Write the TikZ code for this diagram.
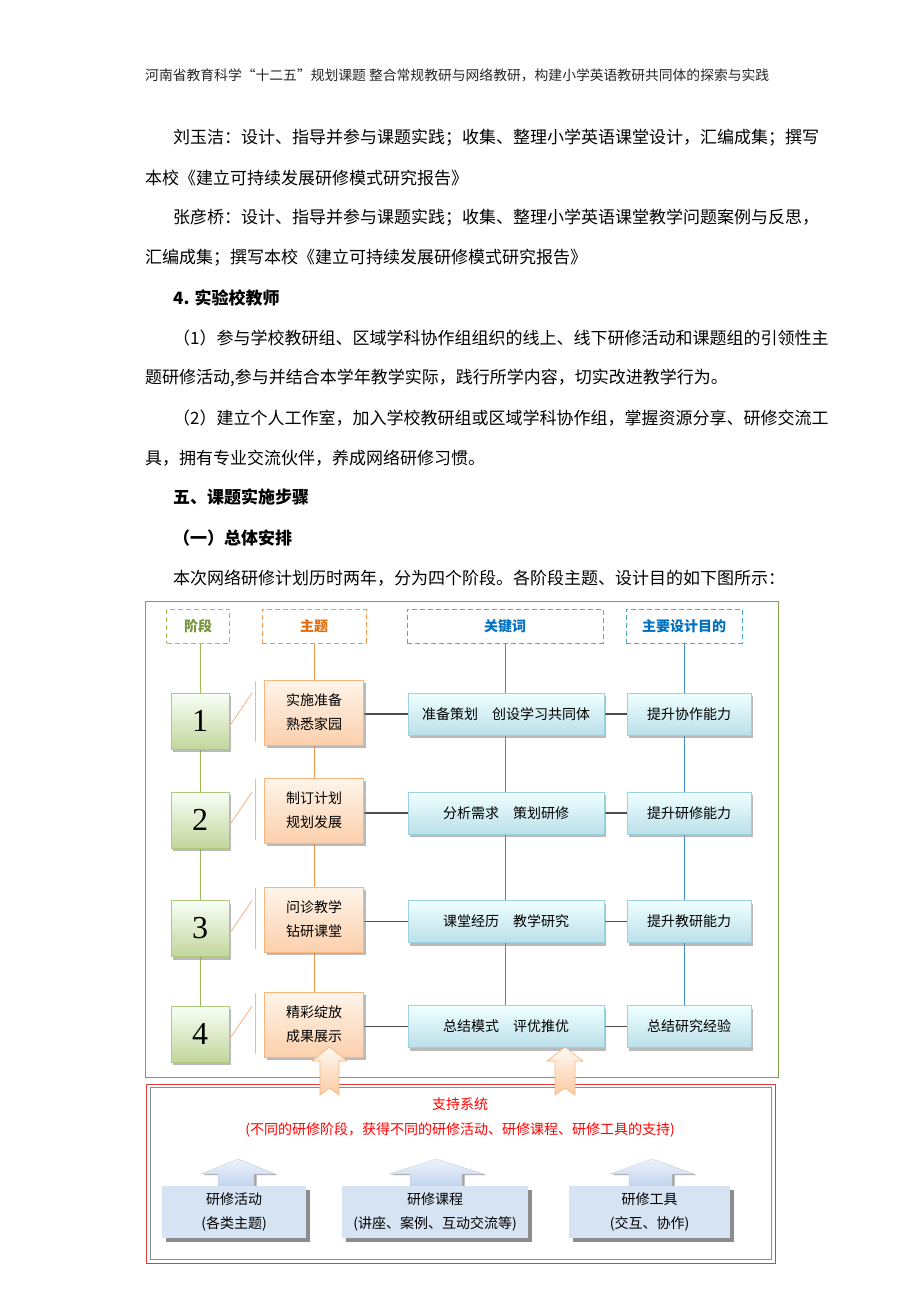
\documentclass[tikz,border=0pt]{standalone}
\usepackage{fontspec}
\setmainfont{Noto Sans CJK SC}
\newfontfamily\numfont{Liberation Serif}
\usetikzlibrary{shadows,backgrounds,calc}
\definecolor{frameG}{HTML}{7FA246}
\definecolor{dashG}{HTML}{9BBB59}
\definecolor{txtG}{HTML}{77933C}
\definecolor{dashO}{HTML}{F79646}
\definecolor{txtO}{HTML}{E46C0A}
\definecolor{dashB}{HTML}{4BACC6}
\definecolor{txtB}{HTML}{0070C0}
\definecolor{lineB}{HTML}{3D8BD3}
\definecolor{connC}{HTML}{4D4D4D}
\definecolor{brkO}{HTML}{F8B88A}
\definecolor{redF}{HTML}{E03C3C}
\definecolor{sFill}{HTML}{D6E3F3}
\definecolor{arrTop}{HTML}{EEF3FA}
\definecolor{arrBot}{HTML}{BFD3EC}
\begin{document}
\begin{tikzpicture}[x=1pt,y=-1pt,
  para/.style={anchor=west,inner sep=0pt,font=\fontsize{17}{20}\selectfont},
  parab/.style={para,font=\fontsize{17}{20}\selectfont\bfseries},
  hdrtxt/.style={anchor=west,inner sep=0pt,font=\fontsize{13.8}{16}\selectfont,text=black!85},
  headbox/.style={draw,dash pattern=on 5pt off 3pt,line width=1pt,minimum height=34pt,inner sep=0pt,font=\fontsize{14}{16}\selectfont\bfseries},
  numbox/.style={draw=dashG!80,top color=green!3!white,bottom color=dashG!60,minimum width=58pt,minimum height=56pt,inner sep=0pt,
     font=\numfont\fontsize{32}{32}\selectfont,drop shadow={shadow xshift=2pt,shadow yshift=-3pt,fill=black!45,opacity=0.6}},
  obox/.style={draw=dashO!70,top color=orange!8!white,bottom color=dashO!45,minimum width=99pt,minimum height=65pt,inner sep=0pt,align=center,
     font=\fontsize{14}{24}\selectfont,drop shadow={shadow xshift=2pt,shadow yshift=-3pt,fill=black!45,opacity=0.6}},
  kbox/.style={draw=dashB!55,top color=cyan!6!white,bottom color=dashB!38,minimum height=42pt,inner sep=0pt,
     font=\fontsize{14}{16}\selectfont,drop shadow={shadow xshift=2pt,shadow yshift=-3pt,fill=black!45,opacity=0.6}},
  sbox/.style={fill=sFill,minimum height=52pt,inner sep=0pt,align=center,font=\fontsize{14}{24}\selectfont,
     drop shadow={shadow xshift=4pt,shadow yshift=-4pt,fill=black!50,opacity=0.9}},
  vline/.style={line width=1pt},
  hconn/.style={connC,line width=1.3pt},
  brk/.style={brkO,line width=0.9pt},
  uparrO/.style={top color=orange!5!white,bottom color=dashO!50,draw=dashO!70,line width=0.6pt},
  uparrB/.style={top color=arrTop,bottom color=arrBot,draw=arrBot!80!black!60,line width=0.3pt,
     drop shadow={shadow xshift=2.5pt,shadow yshift=-1pt,fill=black!50,opacity=0.7}}
]
\useasboundingbox (0,0) rectangle (920,1302);

% ---------- running text ----------
\node[hdrtxt] (h0) at (145,75) {河南省教育科学“十二五”规划课题 整合常规教研与网络教研，构建小学英语教研共同体的探索与实践};
\node[para] (t1) at (173,138) {刘玉洁：设计、指导并参与课题实践；收集、整理小学英语课堂设计，汇编成集；撰写};
\node[para] (t2) at (145,178) {本校《建立可持续发展研修模式研究报告》};
\node[para] (t3) at (173,218) {张彦桥：设计、指导并参与课题实践；收集、整理小学英语课堂教学问题案例与反思，};
\node[para] (t4) at (145,258) {汇编成集；撰写本校《建立可持续发展研修模式研究报告》};
\node[parab] (t5) at (173,298) {4. 实验校教师};
\node[para] (t6) at (173,338) {（1）参与学校教研组、区域学科协作组组织的线上、线下研修活动和课题组的引领性主};
\node[para] (t7) at (145,378) {题研修活动,参与并结合本学年教学实际，践行所学内容，切实改进教学行为。};
\node[para] (t8) at (173,418) {（2）建立个人工作室，加入学校教研组或区域学科协作组，掌握资源分享、研修交流工};
\node[para] (t9) at (145,458) {具，拥有专业交流伙伴，养成网络研修习惯。};
\node[parab] (t10) at (173,497) {五、课题实施步骤};
\node[parab] (t11) at (173,538) {（一）总体安排};
\node[para] (t12) at (173,578) {本次网络研修计划历时两年，分为四个阶段。各阶段主题、设计目的如下图所示：};

% ---------- diagram frame ----------
\draw[frameG,line width=1pt] (145,601) rectangle (778,1077);

% header boxes
\node[headbox,draw=dashG,text=txtG,minimum width=63pt] (hA) at (198,626) {阶段};
\node[headbox,draw=dashO,text=txtO,minimum width=104pt] (hB) at (314,626) {主题};
\node[headbox,draw=dashB,text=txtB,minimum width=196pt] (hC) at (505,626) {关键词};
\node[headbox,draw=dashB,text=txtB,minimum width=116pt] (hD) at (684,626) {主要设计目的};

% stage boxes
\node[numbox] (n1) at (200,721) {1};
\node[numbox] (n2) at (200,820) {2};
\node[numbox] (n3) at (200,928.5) {3};
\node[numbox] (n4) at (200,1034) {4};

\node[obox] (o1) at (314,712.5) {实施准备\\熟悉家园};
\node[obox] (o2) at (314,810.5) {制订计划\\规划发展};
\node[obox] (o3) at (314,919.5) {问诊教学\\钻研课堂};
\node[obox] (o4) at (314,1024.5) {精彩绽放\\成果展示};

\node[kbox,minimum width=196pt] (k1) at (506,714) {准备策划　创设学习共同体};
\node[kbox,minimum width=196pt] (k2) at (506,813) {分析需求　策划研修};
\node[kbox,minimum width=196pt] (k3) at (506,921.5) {课堂经历　教学研究};
\node[kbox,minimum width=196pt] (k4) at (506,1026.5) {总结模式　评优推优};

\node[kbox,minimum width=124pt] (p1) at (689,714) {提升协作能力};
\node[kbox,minimum width=124pt] (p2) at (689,813) {提升研修能力};
\node[kbox,minimum width=124pt] (p3) at (689,921.5) {提升教研能力};
\node[kbox,minimum width=124pt] (p4) at (689,1026.5) {总结研究经验};

\begin{scope}[on background layer]
  \fill[white] (0,0) rectangle (920,1302);
  \draw[vline,dashG] (hA.south -| n1.center) -- (n4.north);
  \draw[vline,dashO] (hB.south) -- (o4.north);
  \draw[vline,lineB] (hC.south) -- (hC.south |- k4.north);
  \draw[vline,lineB] (hD.south) -- (hD.south |- p4.north);
  \foreach \i in {1,2,3,4}{
    \draw[hconn] (o\i.east |- k\i.west) -- (k\i.west);
    \draw[hconn] (k\i.east) -- (p\i.west);
  }
\end{scope}

% brackets between number boxes and topic boxes
\foreach \i in {1,2,3,4}{
  \coordinate (bt\i) at ($(o\i.north west)+(-8.5,1)$);
  \coordinate (bb\i) at ($(o\i.south west)+(-8.5,-3)$);
  \coordinate (ba\i) at ($(n\i.north east)!0.6!(n\i.south east)$);
  \coordinate (bc\i) at ($(n\i.north east)+(23,0)$);
  \draw[brk] (bt\i) -- (bb\i);
  \draw[brk] (ba\i) -- (bc\i);
}

% ---------- support system ----------
\draw[redF,line width=1pt] (146,1084) rectangle (775,1263);
\draw[black!45,line width=0.7pt] (150,1087.5) rectangle (771,1259.5);
\node[text=red,font=\fontsize{14}{16}\selectfont] (s1) at (460,1104) {支持系统};
\node[text=red,font=\fontsize{14}{16}\selectfont] (s2) at (460,1130) {(不同的研修阶段，获得不同的研修活动、研修课程、研修工具的支持)};

% blue up arrows on support boxes
\path[uparrB] (238,1159) -- (275,1174) -- (254,1174) -- (254,1187) -- (218,1187) -- (218,1174) -- (201,1174) -- cycle;
\path[uparrB] (436,1159) -- (484,1174) -- (462,1174) -- (462,1187) -- (410,1187) -- (410,1174) -- (389,1174) -- cycle;
\path[uparrB] (652,1159) -- (694,1174) -- (672,1174) -- (672,1187) -- (629,1187) -- (629,1174) -- (610,1174) -- cycle;

\node[sbox,minimum width=144pt] (b1) at (234,1212) {研修活动\\(各类主题)};
\node[sbox,minimum width=186pt] (b2) at (435,1212) {研修课程\\(讲座、案例、互动交流等)};
\node[sbox,minimum width=161pt] (b3) at (649.5,1212) {研修工具\\(交互、协作)};

% orange up arrows into the stage frame
\path[uparrO] (329.5,1047) -- (347,1061) -- (339,1061) -- (339,1095) -- (329.5,1088) -- (320,1095) -- (320,1061) -- (312,1061) -- cycle;
\path[uparrO] (565,1047) -- (583,1061) -- (575,1061) -- (575,1095) -- (565,1088) -- (555,1095) -- (555,1061) -- (547,1061) -- cycle;
\end{tikzpicture}
\end{document}
